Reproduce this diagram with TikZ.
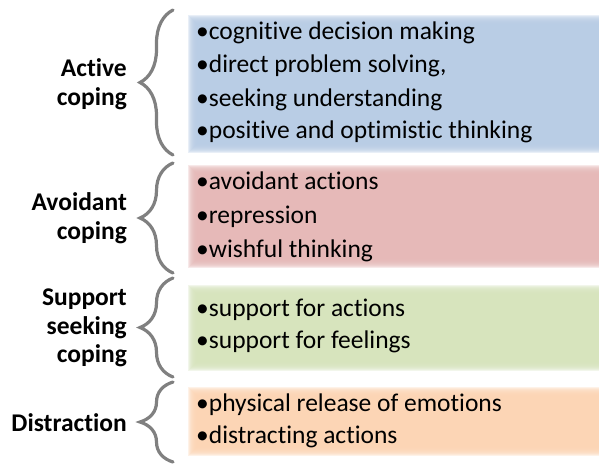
\documentclass[tikz,border=0pt]{standalone}
\usepackage{fontspec}
\setmainfont[Ligatures={NoCommon,NoContextual,NoRare}]{Carlito}
\usetikzlibrary{decorations.pathreplacing}
\definecolor{bluefill}{HTML}{B9CDE5}
\definecolor{redfill}{HTML}{E6B9B8}
\definecolor{greenfill}{HTML}{D7E4BD}
\definecolor{orangefill}{HTML}{FCD5B5}
\definecolor{bracegray}{HTML}{808080}
% a "t" that never joins the next letter
\newcommand{\tk}{t\kern0pt }
\tikzset{
  softbox/.style={fill=#1, fill opacity=0.3, draw=none},
  catlabel/.style={anchor=east, align=right, inner sep=0pt,
    font=\bfseries\fontsize{25.5}{28.5}\selectfont},
  item/.style={anchor=base west, inner sep=0pt,
    font=\fontsize{25.5}{33}\selectfont},
  groupbrace/.style={draw=bracegray, line width=3.2pt, line cap=round,
    decorate, decoration={brace, amplitude=33pt}},
}
% soft-edged band: stacked translucent rectangles
\newcommand{\softband}[3]{%
  \foreach \d in {-5,-4,...,5}
    \fill[softbox=#1] (193-\d,#2-\d) rectangle (610,#3+\d);}
\begin{document}
\begin{tikzpicture}[x=1pt, y=-1pt]
\useasboundingbox (0,0) rectangle (599,463);
\fill[white] (0,0) rectangle (599,463);

% colour bands
\softband{bluefill}{20}{148}
\softband{redfill}{170}{263}
\softband{greenfill}{290}{366}
\softband{orangefill}{392}{451}

% braces
\coordinate (b1t) at (173,10);  \coordinate (b1b) at (173,155);
\coordinate (b2t) at (173,163); \coordinate (b2b) at (173,273);
\coordinate (b3t) at (173,278); \coordinate (b3b) at (173,377);
\coordinate (b4t) at (173,382); \coordinate (b4b) at (173,462);
\draw[groupbrace] (b1b) -- (b1t);
\draw[groupbrace] (b2b) -- (b2t);
\draw[groupbrace] (b3b) -- (b3t);
\draw[groupbrace] (b4b) -- (b4t);

% category labels
\node[catlabel] (active) at (127,84) {Active\\coping};
\node[catlabel] (avoid) at (127,218) {Avoidant\\coping};
\node[catlabel] (support) at (127,328) {Support\\seeking\\coping};
\node[catlabel] (distr) at (127,423) {Distrac\tk ion};

% items
\node[item] (a1) at (196,39)  {•cogni\tk ive decision making};
\node[item] (a2) at (196,72)  {•direct problem solving,};
\node[item] (a3) at (196,106) {•seeking understanding};
\node[item] (a4) at (196,138) {•positive and op\tk imis\tk ic thinking};

\node[item] (v1) at (196,189) {•avoidant ac\tk ions};
\node[item] (v2) at (196,223) {•repression};
\node[item] (v3) at (196,257) {•wishful thinking};

\node[item] (s1) at (196,316) {•support for ac\tk ions};
\node[item] (s2) at (196,348) {•support for feelings};

\node[item] (d1) at (196,411) {•physical release of emotions};
\node[item] (d2) at (196,443) {•distrac\tk ing ac\tk ions};
\end{tikzpicture}
\end{document}
